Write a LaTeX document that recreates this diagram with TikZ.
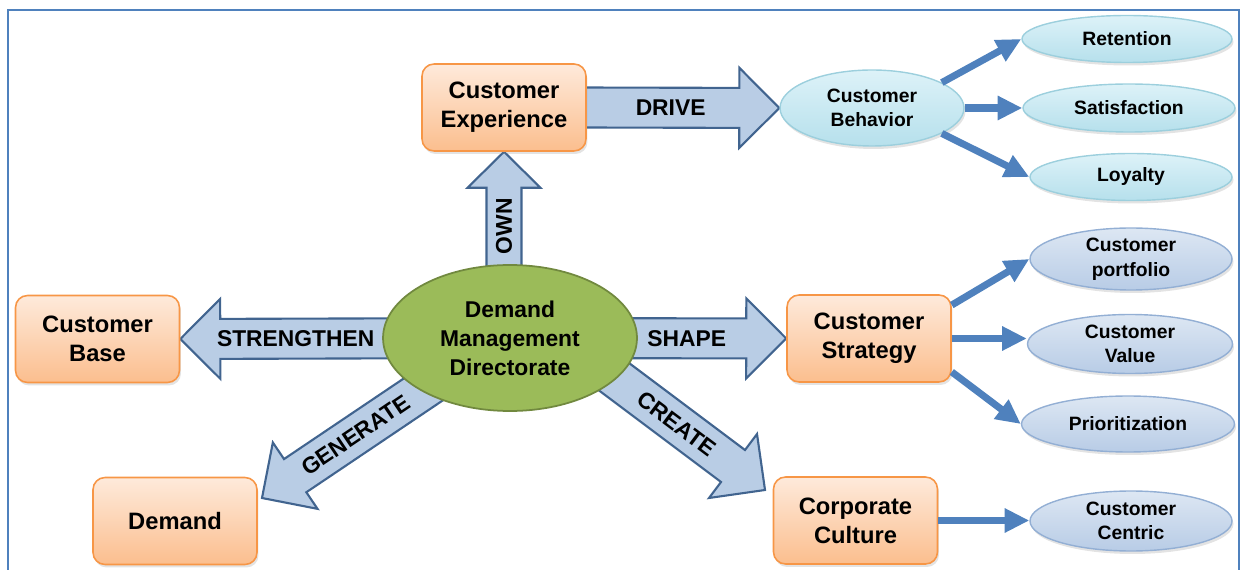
\documentclass[tikz,border=0pt]{standalone}
\usepackage{fontspec}
\setmainfont{Liberation Sans}
\usetikzlibrary{calc,shapes.geometric,arrows.meta,backgrounds,shadows}

\definecolor{frameblue}{HTML}{4F81BD}
\definecolor{arrowfill}{HTML}{B9CDE5}
\definecolor{arrowline}{HTML}{41648F}
\definecolor{boxtop}{HTML}{FEEADB}
\definecolor{boxbot}{HTML}{FBBE8E}
\definecolor{boxline}{HTML}{F79646}
\definecolor{hubfill}{HTML}{9BBB59}
\definecolor{hubline}{HTML}{71893F}
\definecolor{cyantop}{HTML}{DDF2F8}
\definecolor{cyanbot}{HTML}{B6E0EC}
\definecolor{cyanline}{HTML}{9CCFDD}
\definecolor{bluetop}{HTML}{DDE7F3}
\definecolor{bluebot}{HTML}{B8CCE6}
\definecolor{blueline}{HTML}{93AFD4}

\tikzset{
  softshadow/.style={drop shadow={opacity=0.22,shadow xshift=0.03cm,shadow yshift=-0.06cm}},
  orangebox/.style={draw=boxline, line width=0.9pt, rounded corners=0.24cm,
    top color=boxtop, bottom color=boxbot, minimum width=3.28cm, minimum height=1.74cm,
    align=center, font=\fontsize{13.5}{16.5}\selectfont\bfseries, softshadow},
  hub/.style={ellipse, draw=hubline, line width=1pt, fill=hubfill,
    minimum width=5.08cm, minimum height=2.92cm, align=center,
    font=\fontsize{13}{16.5}\selectfont\bfseries},
  cyanoval/.style={ellipse, draw=cyanline, line width=0.8pt, top color=cyantop,
    bottom color=cyanbot, inner sep=-4pt, align=center,
    font=\fontsize{11}{14}\selectfont\bfseries, softshadow},
  blueoval/.style={ellipse, draw=blueline, line width=0.8pt, top color=bluetop,
    bottom color=bluebot, inner sep=-4pt, align=center,
    font=\fontsize{11}{14}\selectfont\bfseries, softshadow},
  bigarrow/.style={draw=arrowline, line width=1.2pt, fill=arrowfill, line join=miter},
  arrowlabel/.style={sloped, font=\fontsize{13}{15}\selectfont\bfseries},
  thinarrow/.style={draw=frameblue, line width=4pt, -{Triangle[length=14pt,width=13pt]}},
}

\newcommand{\shaftw}{0.4cm}
\newcommand{\headw}{0.8cm}
\newcommand{\headl}{0.8cm}
% start, tip, label position, label
\newcommand{\blockarrow}[4]{%
  \coordinate (hb) at ($(#2)!\headl!(#1)$);
  \draw[bigarrow] ($(#1)!\shaftw!90:(#2)$) -- ($(hb)!\shaftw!-90:(#1)$)
    -- ($(hb)!\headw!-90:(#1)$) -- (#2) -- ($(hb)!\headw!90:(#1)$)
    -- ($(hb)!\shaftw!90:(#1)$) -- ($(#1)!\shaftw!-90:(#2)$) -- cycle;
  \path (#1) -- (#2) node[arrowlabel,pos=#3] {#4};}

\begin{document}
\begin{tikzpicture}[x=0.02cm,y=-0.02cm]
	\useasboundingbox (0,0) rectangle (1243,570);
	\draw[frameblue, line width=1.4pt] (8,575) -- (8,10) -- (1239,10) -- (1239,575);
	
	%boxes
	\node[orangebox] (ce)    at (504,107.5) {Customer\\Experience};
	\node[orangebox] (cbase) at (97.5,339)  {Customer\\Base};
	\node[orangebox] (dem)   at (175,521)   {Demand};
	\node[orangebox] (cs)    at (869,338.5) {Customer\\Strategy};
	\node[orangebox] (cc)    at (855.5,520.5) {Corporate\\Culture};
	%
	\node[hub] (dmd) at (510,338) {Demand\\Management\\Directorate};
	%
	\node[cyanoval, minimum width=3.68cm, minimum height=1.52cm] (cb) at (872,108) {Customer\\Behavior};
	\node[cyanoval, minimum width=4.2cm,  minimum height=0.94cm] (rt) at (1127,39)  {Retention};
	\node[cyanoval, minimum width=4.24cm, minimum height=0.96cm] (sa) at (1129,108) {Satisfaction};
	\node[cyanoval, minimum width=4.04cm, minimum height=0.94cm] (lo) at (1131,177) {Loyalty};
	%
	\node[blueoval, minimum width=4.04cm, minimum height=1.24cm] (cp)  at (1131,259) {Customer\\portfolio};
	\node[blueoval, minimum width=4.1cm,  minimum height=1.18cm] (cv)  at (1130,344) {Customer\\Value};
	\node[blueoval, minimum width=4.26cm, minimum height=1.12cm] (pr)  at (1128,424) {Prioritization};
	\node[blueoval, minimum width=4.04cm, minimum height=1.2cm]  (cuc) at (1131,521) {Customer\\Centric};
	
	%free ends of the slanted arrows
	\coordinate (gs) at (470,358);
	\coordinate (gt) at (262,498);
	\coordinate (crs) at (581,352);
	\coordinate (crt) at (765,490);
	
	%big arrows
	\begin{scope}[on background layer]
		\blockarrow{$(ce.east)+(-5,0)$}{cb.west}{0.45}{DRIVE}
		\blockarrow{dmd.center}{cbase.east}{0.65}{STRENGTHEN}
		\blockarrow{dmd.center}{cs.west}{0.64}{SHAPE}
		\blockarrow{gs}{gt}{0.55}{GENERATE}
		\blockarrow{crs}{crt}{0.52}{CREATE}
		\begin{scope}
			\renewcommand{\shaftw}{0.35cm}
			\renewcommand{\headw}{0.73cm}
			\renewcommand{\headl}{0.72cm}
			\blockarrow{ce.south |- dmd.center}{ce.south}{0.6}{OWN}
		\end{scope}
	\end{scope}
	
	%small arrows
	\draw[thinarrow] (cb.20) -- (rt.west);
	\draw[thinarrow] (cb.east) -- (cb.east -| sa.west);
	\draw[thinarrow] (cb.-20) -- (lo.west);
	%
	\draw[thinarrow] (cs.22) -- (cp.west);
	\draw[thinarrow] (cs.east) -- (cs.east -| cv.west);
	\draw[thinarrow] (cs.-22) -- (pr.west);
	%
	\draw[thinarrow] (cc.east) -- (cc.east -| cuc.west);
\end{tikzpicture}
\end{document}
